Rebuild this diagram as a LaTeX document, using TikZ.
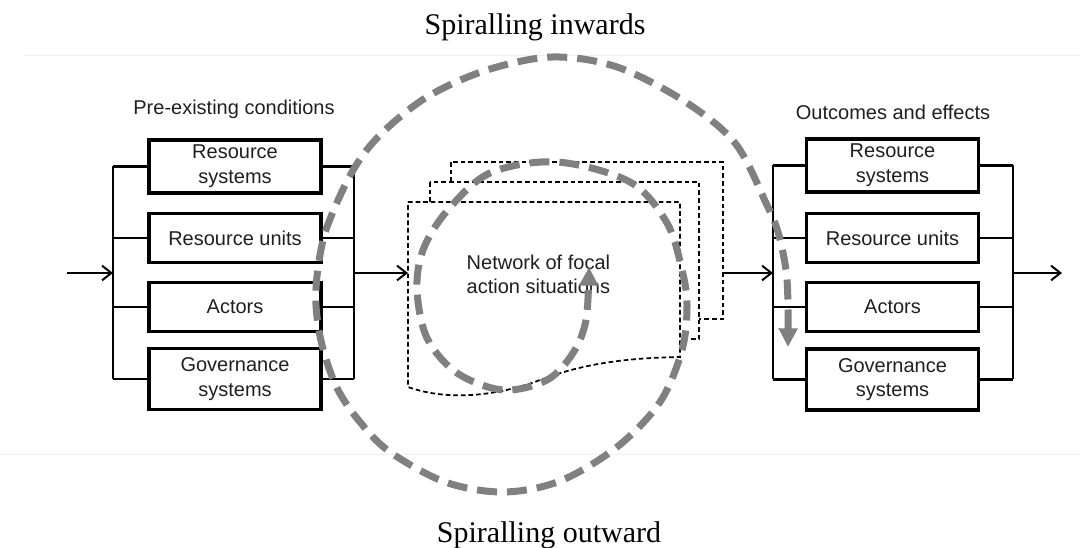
\documentclass[tikz,border=0pt]{standalone}
\usepackage{fontspec}
\setmainfont{Liberation Serif}
\newfontfamily\labelfont{Liberation Sans}
\usetikzlibrary{arrows.meta}
\definecolor{spiralgray}{RGB}{128,128,128}
\definecolor{framegray}{RGB}{238,238,238}

\begin{document}
\begin{tikzpicture}[x=0.75pt,y=-0.75pt,
  lbl/.style={font=\labelfont\fontsize{15}{18.5}\selectfont, align=center, text=black!88},
  box/.style={lbl, draw=black, line width=2.7pt, minimum width=129pt, inner sep=0pt},
  tallbox/.style={box, minimum height=40pt},
  midbox/.style={box, minimum height=36.5pt},
  lowbox/.style={box, minimum height=45.5pt},
  bus/.style={line width=2.2pt},
  stub/.style={line width=1.6pt},
  arr/.style={line width=1.5pt, -{Straight Barb[length=7pt,width=11pt]}},
  ttl/.style={font=\fontsize{22.5}{26}\selectfont, anchor=base},
  head/.style={lbl, anchor=base},
  sheet/.style={draw, fill=white, line width=1.3pt, dash pattern=on 3.5pt off 2.2pt},
  spiral/.style={draw=spiralgray, line width=5.25pt, dash pattern=on 15pt off 7.5pt,
    {Triangle[length=14pt,width=13.5pt]}-{Triangle[length=14pt,width=13.5pt]}},
  rule/.style={draw=framegray, line width=0.75pt}]

\useasboundingbox (0,0) rectangle (1080,548);

% faint frame lines of the figure panel
\draw[rule] (24,56) -- (1080,56);
\draw[rule] (0,454) -- (1080,454);

% titles
\node[ttl] (tin)  at (535,35)  {Spiralling inwards};
\node[ttl] (tout) at (549,542) {Spiralling outward};

% ---------- pre-existing conditions ----------
\node[head] (hpre) at (234,115) {Pre-existing conditions};
\node[tallbox] (L1) at (235,166.5) {Resource\\systems};
\node[midbox]  (L2) at (235,238)   {Resource units};
\node[midbox]  (L3) at (235,307)   {Actors};
\node[lowbox]  (L4) at (235,379)   {Governance\\systems};

\coordinate (lbA) at (113,166.5);
\coordinate (lbB) at (113,379);
\coordinate (lbIn) at (113,273);
\coordinate (lIn) at (67,273);
\coordinate (rbA) at (354,166.5);
\coordinate (rbB) at (354,379);
\coordinate (rbOut) at (354,273);

\draw[bus] (lbA) -- (lbB);
\draw[bus] (rbA) -- (rbB);
\foreach \b in {L1,L2,L3,L4}{
  \draw[stub] (lbA |- \b.west) -- (\b.west);
  \draw[stub] (\b.east) -- (rbA |- \b.east);
}
\draw[arr] (lIn) -- (lbIn);

% ---------- network of focal action situations ----------
\draw[sheet] (451,162) rectangle (723,319);
\draw[sheet] (430,182) rectangle (699,339);
\draw[sheet] (408,202) -- (680,202) -- (680,357)
  .. controls (620,358) and (580,365) .. (540,380)
  .. controls (500,395) and (450,402) .. (408,387) -- cycle;
\node[lbl, align=left, anchor=north west] (net) at (462,250) {Network of focal\\action situations};

\coordinate (netW) at (408,273);
\coordinate (netE) at (723,273);
\draw[arr] (rbOut) -- (netW);

% ---------- outcomes and effects ----------
\node[head] (hout) at (893,120) {Outcomes and effects};
\node[tallbox] (R1) at (892.5,165.5) {Resource\\systems};
\node[midbox]  (R2) at (892.5,238)   {Resource units};
\node[midbox]  (R3) at (892.5,307)   {Actors};
\node[lowbox]  (R4) at (892.5,379.5) {Governance\\systems};

\coordinate (olA) at (773,165.5);
\coordinate (olB) at (773,379.5);
\coordinate (olIn) at (773,273);
\coordinate (orA) at (1013,165.5);
\coordinate (orB) at (1013,379.5);
\coordinate (orOut) at (1013,273);
\coordinate (rOut) at (1062,273);

\draw[bus] (olA) -- (olB);
\draw[bus] (orA) -- (orB);
\foreach \b in {R1,R2,R3,R4}{
  \draw[stub] (olA |- \b.west) -- (\b.west);
  \draw[stub] (\b.east) -- (orA |- \b.east);
}
\draw[arr] (netE) -- (olIn);
\draw[arr] (orOut) -- (rOut);

% ---------- the spiral ----------
\draw[spiral] plot[smooth, tension=0.55] coordinates {
  (788,347) (788,305) (786,270) (778,232) (766,203) (735,143) (684,101)
  (617,67) (553,57) (487,70) (427,97) (380,135) (352,172) (327,227)
  (318,268) (316,305) (322,345) (337,388) (360,422) (390,452) (445,482)
  (503,492) (560,481) (617,447) (660,402) (682,350) (687,305) (682,270)
  (667,223) (630,182) (557,162) (490,173) (447,211) (423,250) (417,290)
  (427,338) (457,373) (503,390) (547,380) (573,353) (586,320) (589,267)};

\end{tikzpicture}
\end{document}
